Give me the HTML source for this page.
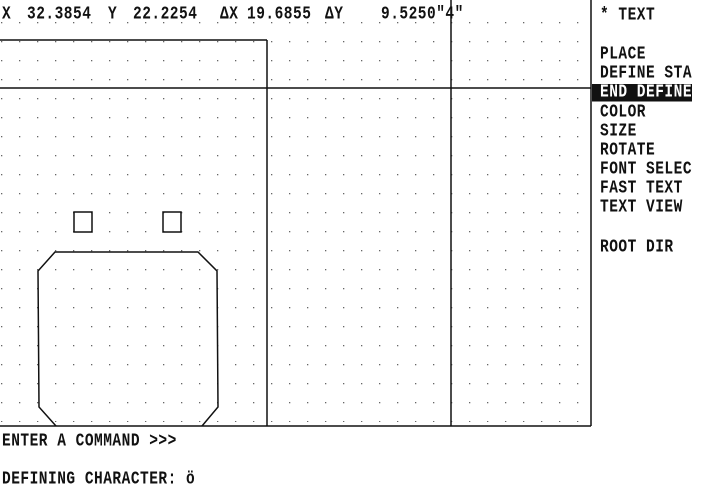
<!DOCTYPE html>
<html><head><meta charset="utf-8"><style>
html,body{margin:0;padding:0;background:#fff;}
body{width:708px;height:497px;position:relative;overflow:hidden;font-family:"Liberation Mono","DejaVu Sans Mono",monospace;}
.t{position:absolute;font-size:14.5px;line-height:14px;color:#111;font-weight:bold;transform:scaleY(1.25);transform-origin:0 0;white-space:pre;letter-spacing:0.5px;}
.hl{background:#111;color:#fff;}
</style></head><body>
<svg width="708" height="497" style="position:absolute;left:0;top:0">
<defs><pattern id="d" x="19" y="3" width="18" height="19" patternUnits="userSpaceOnUse"><rect x="0" y="0" width="1.3" height="1.3" fill="#666"/></pattern></defs>
<rect x="0" y="22" width="590" height="400" fill="url(#d)"/>
<g stroke="#111" stroke-width="1.5" fill="none">
<line x1="0" y1="40" x2="267" y2="40"/>
<line x1="267" y1="40" x2="267" y2="426"/>
<line x1="0" y1="88" x2="591" y2="88"/>
<line x1="451" y1="0" x2="451" y2="426"/>
<line x1="591" y1="0" x2="591" y2="426"/>
<line x1="0" y1="426" x2="591" y2="426"/>
<rect x="74" y="212" width="18" height="20"/>
<rect x="163" y="212" width="18" height="20"/>
<polyline points="56,426 39,407 38,271 55,252 198,252 217,271 218,407 202,426"/>
</g>
</svg>
<div class="t" style="left:2px;top:6px">X</div>
<div class="t" style="left:27px;top:6px">32.3854</div>
<div class="t" style="left:108px;top:6px">Y</div>
<div class="t" style="left:133px;top:6px">22.2254</div>
<div class="t" style="left:220px;top:6px">ΔX</div>
<div class="t" style="left:247px;top:6px">19.6855</div>
<div class="t" style="left:325px;top:6px">ΔY</div>
<div class="t" style="left:381px;top:6px">9.5250"4"</div>
<div class="t" style="left:600px;top:7px">* TEXT</div>
<div class="t" style="left:600px;top:46px">PLACE</div>
<div class="t" style="left:600px;top:65px">DEFINE STA</div>
<div class="t hl" style="left:592px;top:84px;padding-left:8px;width:92px">END DEFINE</div>
<div class="t" style="left:600px;top:104px">COLOR</div>
<div class="t" style="left:600px;top:123px">SIZE</div>
<div class="t" style="left:600px;top:142px">ROTATE</div>
<div class="t" style="left:600px;top:161px">FONT SELEC</div>
<div class="t" style="left:600px;top:180px">FAST TEXT</div>
<div class="t" style="left:600px;top:199px">TEXT VIEW</div>
<div class="t" style="left:600px;top:239px">ROOT DIR</div>
<div class="t" style="left:2px;top:433px">ENTER A COMMAND &gt;&gt;&gt;</div>
<div class="t" style="left:2px;top:471px">DEFINING CHARACTER: ö</div>
</body></html>
